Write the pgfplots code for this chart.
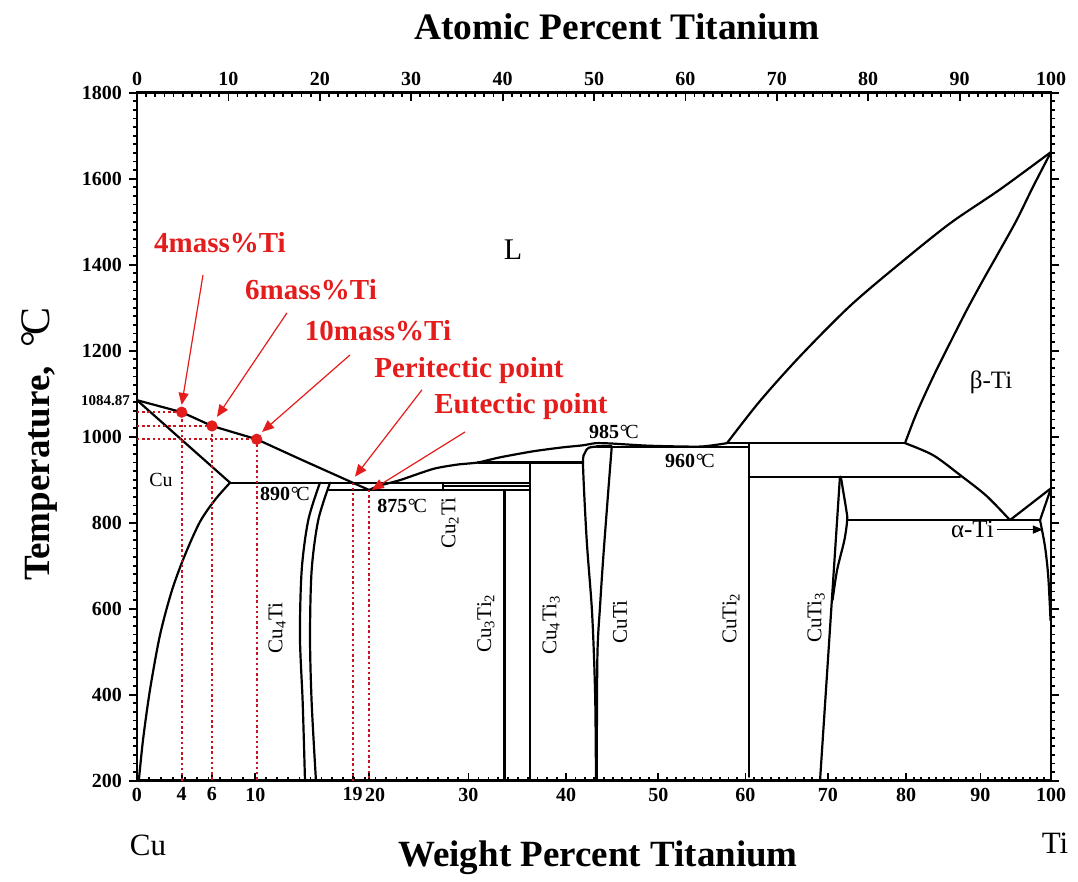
\documentclass[border=0pt]{standalone}
\usepackage{fontspec}
\setmainfont{Liberation Serif}
\usepackage{pgfplots}
\pgfplotsset{compat=1.18}
\usetikzlibrary{arrows.meta}
\definecolor{annot}{RGB}{228,28,28}
\definecolor{dotred}{RGB}{200,20,30}
\newcommand{\dC}{{\mdseries\kern0.03em°\kern-0.12em C}}
\tikzset{phase/.style={black, line width=1.1pt, line join=round, line cap=round}}
\begin{document}
\begin{tikzpicture}[x=1pt,y=1pt]
\path[use as bounding box] (0,0) rectangle (539,441);
\begin{axis}[
  at={(68.5pt,50.65pt)}, anchor=south west,
  width=457pt, height=344pt, scale only axis,
  xmin=0, xmax=100, ymin=200, ymax=1800,
  axis line style={line width=1.2pt},
  tick style={black, line width=0.9pt},
  major tick length=4pt, minor tick length=2pt,
  ytick={200,400,...,1800}, minor y tick num=9,
  ytick pos=both, yticklabel pos=left, ytick align=outside,
  xtick pos=left, xtick align=inside,
  xtick={0,4.89,8.2,12.95,23.6,25.4,36.263,46.951,57.036,66.570,75.596,84.153,92.276,100},
  xticklabels={0,4,6,10,{19\hspace{7pt}},{\hspace{6pt}20},30,40,50,60,70,80,90,100},
  minor xtick={1.323,2.638,3.944,5.242,6.531,7.812,9.085,10.349,11.606,12.854,14.095,15.328,16.553,17.771,18.981,20.183,21.378,22.565,23.745,24.918,26.084,27.243,28.394,29.539,30.677,31.807,32.931,34.049,35.159,36.263,37.360,38.451,39.536,40.614,41.685,42.751,43.810,44.863,45.910,46.951,47.985,49.014,50.037,51.054,52.065,53.071,54.071,55.065,56.053,57.036,58.014,58.986,59.952,60.914,61.870,62.820,63.765,64.705,65.640,66.570,67.494,68.414,69.329,70.239,71.144,72.043,72.939,73.829,74.715,75.596,76.472,77.343,78.210,79.073,79.930,80.784,81.633,82.477,83.317,84.153,84.984,85.810,86.633,87.452,88.266,89.076,89.882,90.685,91.482,92.276,93.067,93.853,94.635,95.413,96.188,96.958,97.724,98.487,99.245},
  ticklabel style={font=\fontsize{10}{12}\selectfont\bfseries},
  /pgf/number format/assume math mode=true,
  /pgf/number format/1000 sep={},
  extra y ticks={1084.87}, extra y tick labels={1084.87},
  extra y tick style={yticklabel style={font=\fontsize{7.5}{9}\selectfont\bfseries}, major tick length=0pt},
  clip=false,
]
% Cu-side liquidus
\addplot[phase] coordinates {(0,1084.87) (4.89,1057) (8.2,1025) (13.1,994) (17.83,948) (23.6,893) (25.4,876)};
% liquidus beyond the eutectic
\addplot[phase, smooth, tension=0.4] coordinates {(25.4,876) (26.5,886) (28.77,899) (32.39,925) (35.0,935) (37.3,940) (39.72,952) (43.33,966) (46.5,975) (48.8,980) (50.2,985) (52,984) (56,979) (61.6,977) (64.55,985)};
% Cu solidus and solvus
\addplot[phase] coordinates {(0,1084.87) (10.18,893)};
\addplot[phase, smooth, tension=0.5] coordinates {(10.18,893) (8.53,853) (6.89,802) (5.25,725) (3.83,643) (2.52,539) (1.42,411) (0.66,295) (0.2,200)};
% 890 line
\addplot[phase] coordinates {(10.18,893) (43.0,893)};
% Cu4Ti
\addplot[phase, smooth, tension=0.5] coordinates {(20.02,893) (18.74,806) (18.02,690) (17.83,535) (18.13,381) (18.38,200)};
\addplot[phase, smooth, tension=0.5] coordinates {(21.12,893) (19.83,806) (19.11,690) (18.93,535) (19.11,381) (19.58,200)};
% 875 line, Cu2Ti
\addplot[phase] coordinates {(21.0,876) (43.0,876)};
\addplot[phase] coordinates {(33.48,893) (33.48,876)};
\addplot[phase, line width=0.8pt] coordinates {(33.48,886) (43.0,886)};
% Cu3Ti2, Cu4Ti3
\addplot[phase] coordinates {(40.2,876) (40.2,200)};
\addplot[phase] coordinates {(43.0,940) (43.0,200)};
\addplot[phase] coordinates {(37.3,940) (48.8,940)};
% CuTi
\addplot[phase, smooth, tension=0.5] coordinates {(50.3,977) (49.4,974) (49.0,962) (48.8,934) (49.2,760) (49.75,605) (50.0,488) (50.15,372) (50.22,200)};
\addplot[phase, smooth, tension=0.5] coordinates {(51.94,976) (51.57,876) (51.02,721) (50.66,605) (50.37,488) (50.3,200)};
\addplot[phase] coordinates {(50.3,977) (51.94,977)};
% 960 line, CuTi2
\addplot[phase] coordinates {(51.94,976) (66.96,976)};
\addplot[phase] coordinates {(66.96,985) (66.96,209)};
% 985 line, 907 line
\addplot[phase] coordinates {(64.55,985) (84.03,985)};
\addplot[phase] coordinates {(66.96,907) (90.04,907)};
% beta-Ti liquidus and solidus
\addplot[phase, smooth, tension=0.5] coordinates {(64.55,985) (68.16,1083) (72.54,1187) (78.01,1304) (83.48,1403) (88.95,1496) (94.42,1575) (100,1662)};
\addplot[phase, smooth, tension=0.5] coordinates {(84.03,985) (85.3,1055) (87.1,1139) (88.95,1218) (90.77,1294) (92.56,1364) (94.42,1434) (96.25,1504) (98.03,1581) (100,1662)};
% beta transus
\addplot[phase, smooth, tension=0.5] coordinates {(84.03,985) (87.1,957) (90.04,911) (92.96,862) (95.51,806)};
\addplot[phase] coordinates {(77.68,806) (98.8,806)};
\addplot[phase] coordinates {(95.51,806) (100,880)};
\addplot[phase] coordinates {(98.8,806) (100,880)};
\addplot[phase, smooth, tension=0.5] coordinates {(98.8,806) (99.34,745) (99.7,675) (99.95,573)};
% CuTi3
\addplot[phase] coordinates {(76.91,907) (74.73,200)};
\addplot[phase, smooth, tension=0.5] coordinates {(77.0,907) (77.6,830) (77.7,806) (77.4,760) (76.6,690) (76.1,620)};
% red dotted guides
\addplot[dotred, line width=1pt, dash pattern=on 1.2pt off 1.4pt] coordinates {(0,1057) (4.89,1057) (4.89,200)};
\addplot[dotred, line width=1pt, dash pattern=on 1.2pt off 1.4pt] coordinates {(0,1025) (8.2,1025) (8.2,200)};
\addplot[dotred, line width=1pt, dash pattern=on 1.2pt off 1.4pt] coordinates {(0,994) (13.1,994) (13.1,200)};
\addplot[dotred, line width=1pt, dash pattern=on 1.2pt off 1.4pt] coordinates {(23.6,893) (23.6,200)};
\addplot[dotred, line width=1pt, dash pattern=on 1.2pt off 1.4pt] coordinates {(25.4,876) (25.4,200)};
% red points
\addplot[only marks, mark=*, mark size=2.6pt, annot] coordinates {(4.89,1057) (8.2,1025) (13.1,994)};
% red arrows
\addplot[annot, line width=0.6pt, -{Triangle[length=6pt,width=5pt]}] coordinates {(7.22,1376) (4.89,1074)};
\addplot[annot, line width=0.6pt, -{Triangle[length=6pt,width=5pt]}] coordinates {(16.41,1288) (8.75,1046)};
\addplot[annot, line width=0.6pt, -{Triangle[length=6pt,width=5pt]}] coordinates {(23.30,1190) (13.68,1011)};
\addplot[annot, line width=0.6pt, -{Triangle[length=6pt,width=5pt]}] coordinates {(31.18,1109) (23.85,907)};
\addplot[annot, line width=0.6pt, -{Triangle[length=6pt,width=5pt]}] coordinates {(35.89,1011) (25.68,876)};
% alpha-Ti arrow
\addplot[black, line width=0.6pt, -{Triangle[length=5pt,width=4pt]}] coordinates {(94.09,784) (99.12,784)};
% labels
\begin{scope}[every node/.style={font=\fontsize{14.5}{16}\selectfont\bfseries, text=annot, inner sep=0pt}]
\node at (axis cs:9.08,1452) {4mass\%Ti};
\node at (axis cs:19.04,1341) {6mass\%Ti};
\node at (axis cs:26.37,1246) {10mass\%Ti};
\node at (axis cs:36.32,1155) {Peritectic point};
\node at (axis cs:42.01,1069) {Eutectic point};
\end{scope}
\node[font=\fontsize{15}{16}\selectfont] at (axis cs:41.14,1434) {L};
\node[font=\fontsize{12.5}{14}\selectfont] at (axis cs:93.44,1127) {β-Ti};
\node[font=\fontsize{12.5}{14}\selectfont, anchor=east, inner sep=1pt] at (axis cs:94.0,784) {α-Ti};
\node[font=\fontsize{10}{12}\selectfont] at (axis cs:2.63,899) {Cu};
\begin{scope}[every node/.style={font=\fontsize{10}{12}\selectfont\bfseries, inner sep=0pt}]
\node at (axis cs:16.19,866) {890\dC};
\node at (axis cs:29.0,839) {875\dC};
\node at (axis cs:52.19,1011) {985\dC};
\node at (axis cs:60.5,943) {960\dC};
\end{scope}
\begin{scope}[every node/.style={font=\fontsize{10.5}{12}\selectfont, rotate=90, inner sep=0pt}]
\node at (axis cs:15.32,555) {Cu\textsubscript{4}Ti};
\node at (axis cs:34.25,799) {Cu\textsubscript{2}Ti};
\node at (axis cs:38.18,566) {Cu\textsubscript{3}Ti\textsubscript{2}};
\node at (axis cs:45.3,562) {Cu\textsubscript{4}Ti\textsubscript{3}};
\node at (axis cs:52.84,569) {CuTi};
\node at (axis cs:64.99,578) {CuTi\textsubscript{2}};
\node at (axis cs:74.29,580) {CuTi\textsubscript{3}};
\end{scope}
\end{axis}
\begin{axis}[
  at={(68.5pt,50.65pt)}, anchor=south west,
  width=457pt, height=344pt, scale only axis,
  xmin=0, xmax=100, ymin=200, ymax=1800,
  axis x line*=top, axis y line=none,
  axis line style={line width=1.2pt},
  tick style={black, line width=0.9pt},
  major tick length=4pt, minor tick length=2pt,
  xtick={0,10,...,100}, minor x tick num=9, xtick align=inside,
  ticklabel style={font=\fontsize{10}{12}\selectfont\bfseries},
  /pgf/number format/assume math mode=true,
]
\end{axis}
\node[font=\fontsize{18.7}{20}\selectfont\bfseries] at (308.5,427.5) {Atomic Percent Titanium};
\node[font=\fontsize{18.5}{20}\selectfont\bfseries] at (299,12) {Weight Percent Titanium};
\node[font=\fontsize{15.5}{17}\selectfont] at (74,18.5) {Cu};
\node[font=\fontsize{15.5}{17}\selectfont] at (527.5,19.5) {Ti};
\node[rotate=90, font=\fontsize{18.5}{20}\selectfont\bfseries] at (19.5,219) {Temperature,\hspace{0.5em}{\mdseries\fontsize{21}{21}\selectfont°\kern-0.1em C}};
\end{tikzpicture}
\end{document}
